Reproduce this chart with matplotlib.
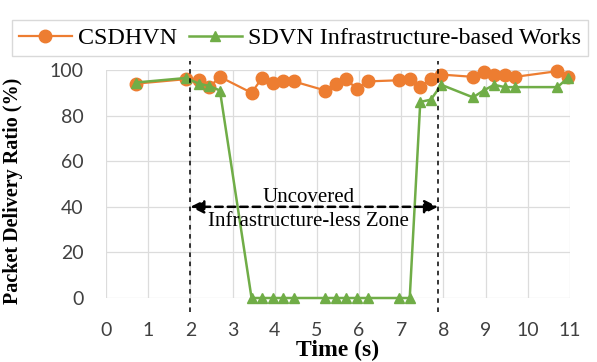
import matplotlib
matplotlib.use("Agg")
import matplotlib.pyplot as plt

# data
times = [0.7, 1.9, 2.2, 2.45, 2.7, 3.45, 3.7, 3.95, 4.2, 4.45,
         5.2, 5.45, 5.7, 5.95, 6.2, 6.95, 7.2, 7.45, 7.7, 7.95,
         8.7, 8.95, 9.2, 9.45, 9.7, 10.7, 10.95]
csdhvn = [94, 96, 95.5, 92.5, 97, 90, 96.5, 94.5, 95, 95,
          91, 94, 96, 91.5, 95, 95.5, 96, 92.5, 96, 98,
          97, 99, 98, 98, 97, 99.5, 97]
sdvn = [94.5, 96.5, 94, 93, 91, 0, 0, 0, 0, 0,
        0, 0, 0, 0, 0, 0, 0, 86, 87, 93.5,
        88, 91, 93.5, 92.5, 92.5, 92.5, 96.5]
zone_start, zone_end = 2.0, 7.87
xticks = list(range(0, 12))
yticks = [0, 20, 40, 60, 80, 100]

serif = "Liberation Serif"
sans = "Lato"
orange = "#ED7D31"
green = "#70AD47"

fig = plt.figure(figsize=(5.97, 3.62), dpi=100)
ax = fig.add_axes([0.1776, 0.1768, 0.7772, 0.6298])

ax.plot(times, csdhvn, color=orange, lw=1.6, marker="o", ms=9,
        label="CSDHVN", zorder=3, clip_on=False)
ax.plot(times, sdvn, color=green, lw=1.8, marker="^", ms=7.5,
        label="SDVN Infrastructure-based Works", zorder=4, clip_on=False)

ax.set_xlim(0, 11)
ax.set_ylim(0, 100)
ax.set_xticks(xticks)
ax.set_yticks(yticks)
ax.grid(True, color="#dcdcdc", lw=0.9)
ax.set_axisbelow(True)
for s in ax.spines.values():
    s.set_visible(False)
ax.tick_params(length=0, labelsize=14)
ax.tick_params(axis="x", pad=17)
ax.tick_params(axis="y", pad=16)
for lab in ax.get_xticklabels() + ax.get_yticklabels():
    lab.set_fontfamily(sans)
    lab.set_color("#404040")

# zone boundaries
for xv in (zone_start, zone_end):
    ax.axvline(xv, ymin=-0.06, ymax=1.04, color="black", lw=1.1,
               ls=(0, (3, 3)), clip_on=False, zorder=5)

# double arrow marking the zone
ax.annotate("", xy=(zone_start, 40), xytext=(zone_end, 40),
            arrowprops=dict(arrowstyle="<|-|>", color="black", lw=1.8,
                            ls=(0, (3, 2)), mutation_scale=20,
                            shrinkA=0, shrinkB=0), zorder=6)
ax.text(4.8, 42, "Uncovered", ha="center", va="baseline",
        fontfamily=serif, fontsize=15, zorder=7)
ax.text(4.8, 31.5, "Infrastructure-less Zone", ha="center", va="baseline",
        fontfamily=serif, fontsize=15, zorder=7)

ax.set_xlabel("Time (s)", fontfamily=serif, fontweight="bold", fontsize=17)
ax.xaxis.set_label_coords(0.5, -0.185)
ax.set_ylabel("Packet Delivery Ratio (%)", fontfamily=serif,
              fontweight="bold", fontsize=14.5)
ax.yaxis.set_label_coords(-0.179, 0.47)

leg = fig.legend(loc="upper center", bbox_to_anchor=(0.502, 0.978), ncol=2,
                 frameon=True, fancybox=False, edgecolor="#d0d0d0",
                 prop={"family": serif, "size": 17.3}, handlelength=2.2,
                 columnspacing=0.5, handletextpad=0.25, borderpad=0.3)

fig.savefig("out.png", dpi=100)
